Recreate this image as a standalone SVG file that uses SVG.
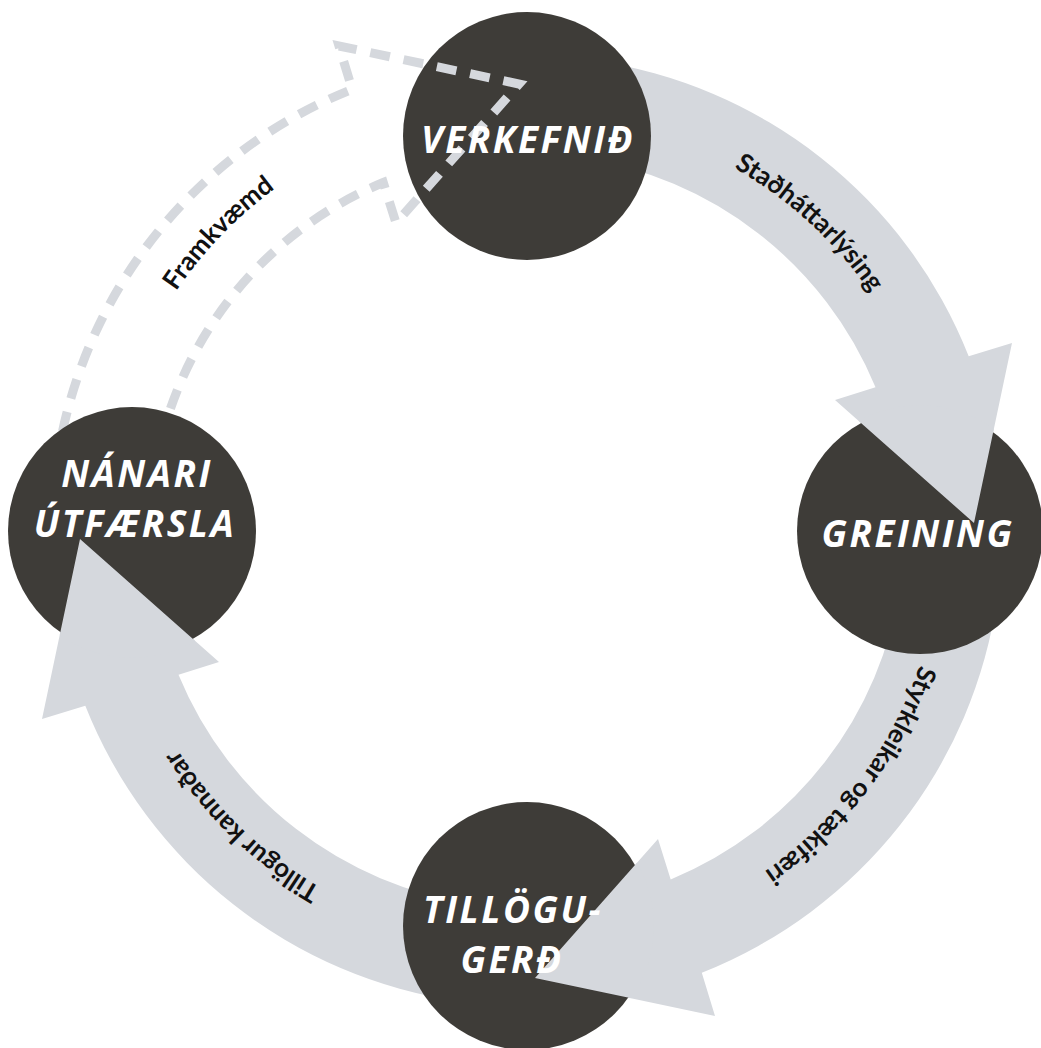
<svg xmlns="http://www.w3.org/2000/svg" xmlns:xlink="http://www.w3.org/1999/xlink" width="1041" height="1048" viewBox="0 0 1041 1048">
  <style>
    .band { fill: #d5d8dd; stroke: none; }
    .dash { fill: none; stroke: #d5d8dd; stroke-width: 9; stroke-dasharray: 20 14; stroke-linejoin: miter; stroke-miterlimit: 10; }
    .disc { fill: #3e3c38; }
    .nl { fill: #ffffff; font-family: "Open Sans", "Noto Sans", "DejaVu Sans", sans-serif; font-weight: 700; font-style: italic; font-size: 37px; letter-spacing: 2.5px; text-anchor: middle; }
    .al { fill: #111111; font-family: "Lato", "Open Sans", "Liberation Sans", sans-serif; font-weight: 700; font-size: 26px; }
  </style>
  <defs>
    <path id="lp1" d="M 545.2 113.4 A 418 418 0 0 1 941.4 476.4"/>
    <path id="lp2" d="M 941.4 509.3 A 415 415 0 0 1 620.4 935.4"/>
    <path id="lp3" d="M 498.3 942 A 412 412 0 0 1 117.3 574.1"/>
    <path id="lp4" d="M 103 501.4 A 425 425 0 0 1 482.6 108.3"/>
    <clipPath id="clip-verkefnid"><circle cx="527" cy="136" r="127"/></clipPath>
    <clipPath id="clip-greining"><circle cx="920" cy="531" r="126"/></clipPath>
    <clipPath id="clip-tillogugerd"><circle cx="527" cy="926" r="127"/></clipPath>
    <clipPath id="clip-nanari"><circle cx="132" cy="531" r="127"/></clipPath>
  </defs>

  <rect width="1041" height="1048" fill="#ffffff"/>

  <g id="connectors">
    <path id="arrow-stadhattarlysing" class="band" d="M 593.1 60.6 A 475 475 0 0 1 968.7 356.2 L 1012 343 L 974 523 L 835 400 L 875.5 387.3 A 377 377 0 0 0 579.5 157.7 Z"/>
    <path id="arrow-styrkleikar" class="band" d="M 997.4 597.1 A 475 475 0 0 1 701.8 972.7 L 715 1016 L 535 978 L 658 839 L 670.7 879.5 A 377 377 0 0 0 900.3 583.5 Z"/>
    <path id="arrow-tillogur" class="band" d="M 460.9 1001.4 A 475 475 0 0 1 85.3 705.8 L 42 719 L 80 539 L 219 662 L 178.5 674.7 A 377 377 0 0 0 474.5 904.3 Z"/>
    <path id="arrow-framkvaemd" class="dash" d="M 56.6 464.9 A 475 475 0 0 1 352.2 89.3 L 339 46 L 519 84 L 396 223 L 383.3 182.5 A 377 377 0 0 0 153.7 478.5 Z"/>
    <text class="al"><textPath href="#lp1" startOffset="50%" text-anchor="middle">Staðháttarlýsing</textPath></text>
    <text class="al"><textPath href="#lp2" startOffset="50%" text-anchor="middle">Styrkleikar og tækifæri</textPath></text>
    <text class="al"><textPath href="#lp3" startOffset="50%" text-anchor="middle">Tillögur kannaðar</textPath></text>
    <text class="al"><textPath href="#lp4" startOffset="50%" text-anchor="middle">Framkvæmd</textPath></text>
  </g>

  <g id="node-verkefnid">
    <circle class="disc" cx="527" cy="136" r="124"/>
    <use href="#arrow-framkvaemd" clip-path="url(#clip-verkefnid)"/>
    <text class="nl" x="528" y="153">VERKEFNIÐ</text>
  </g>

  <g id="node-greining">
    <circle class="disc" cx="920" cy="531" r="123"/>
    <use href="#arrow-stadhattarlysing" clip-path="url(#clip-greining)"/>
    <text class="nl" x="918" y="547">GREINING</text>
  </g>

  <g id="node-tillogugerd">
    <circle class="disc" cx="527" cy="926" r="124"/>
    <use href="#arrow-styrkleikar" clip-path="url(#clip-tillogugerd)"/>
    <text class="nl" x="513" y="923">TILLÖGU-</text>
    <text class="nl" x="512" y="973">GERÐ</text>
  </g>

  <g id="node-nanari">
    <circle class="disc" cx="132" cy="531" r="124"/>
    <use href="#arrow-tillogur" clip-path="url(#clip-nanari)"/>
    <text class="nl" x="137" y="487">NÁNARI</text>
    <text class="nl" x="135" y="537">ÚTFÆRSLA</text>
  </g>
</svg>
